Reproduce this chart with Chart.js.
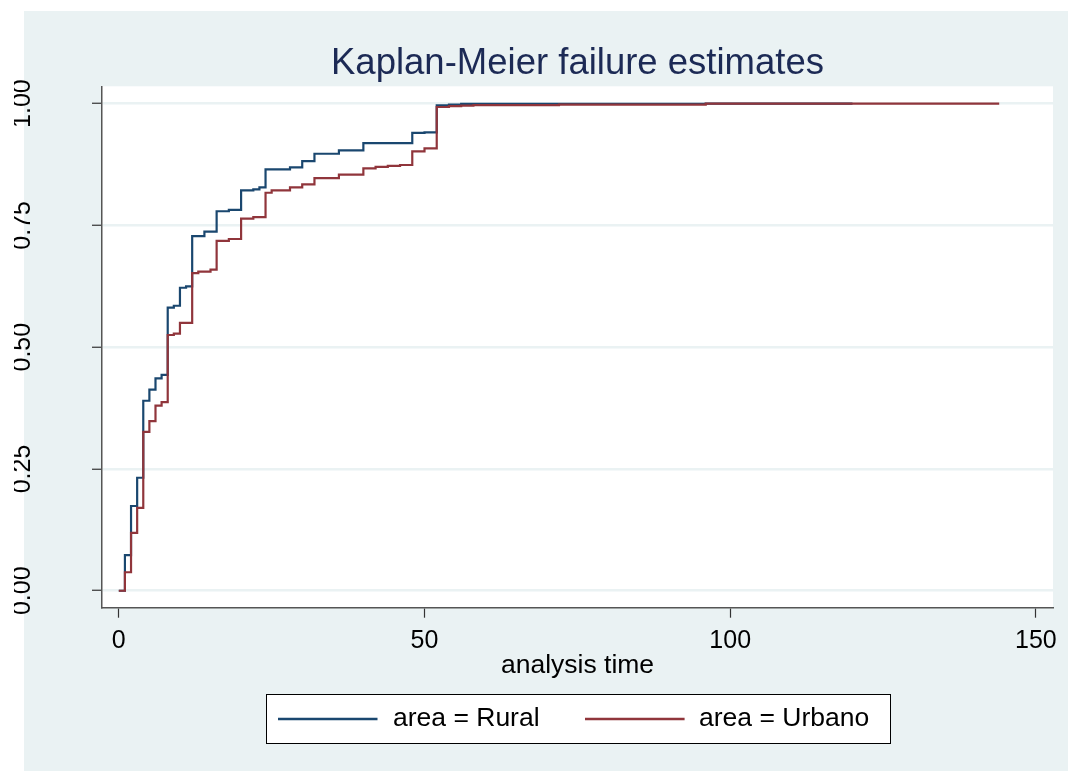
<!DOCTYPE html>
<html><head><meta charset="utf-8">
<script src="https://cdn.jsdelivr.net/npm/chart.js@4.4.1/dist/chart.umd.min.js"></script>
<style>html,body{margin:0;padding:0;background:#fff;overflow:hidden}</style>
</head><body>
<canvas id="c" width="1068" height="771" style="display:block;width:1068px;height:771px"></canvas>
<script>
// ---- data (Kaplan-Meier failure estimates) ----
const ruralTime    = [0, 1, 2, 3, 4, 5, 6, 7, 8, 9, 10, 11, 12, 14, 16, 18, 20, 22, 23, 24, 28, 30, 32, 36, 40, 48, 50, 52, 54, 56, 96, 120];
const ruralFailure = [0, 0.073, 0.174, 0.232, 0.390, 0.413, 0.436, 0.443, 0.581, 0.585, 0.622, 0.625, 0.728, 0.737, 0.779, 0.782, 0.822, 0.824, 0.828, 0.865, 0.869, 0.882, 0.897, 0.904, 0.919, 0.940, 0.941, 0.9965, 0.998, 0.9995, 1.0, 1.0];
const urbanoTime    = [0, 1, 2, 3, 4, 5, 6, 7, 8, 9, 10, 12, 13, 15, 16, 18, 20, 22, 24, 25, 28, 30, 32, 36, 40, 42, 44, 46, 48, 50, 52, 54, 56, 58, 72, 96, 144];
const urbanoFailure = [0, 0.038, 0.119, 0.170, 0.326, 0.348, 0.380, 0.387, 0.525, 0.528, 0.550, 0.652, 0.655, 0.659, 0.718, 0.722, 0.764, 0.767, 0.817, 0.822, 0.828, 0.834, 0.847, 0.854, 0.867, 0.870, 0.872, 0.874, 0.902, 0.908, 0.993, 0.995, 0.996, 0.997, 0.998, 1.0, 1.0];
const seriesLabels = ['area = Rural', 'area = Urbano'];
const seriesColors = ['#1a476f', '#90353b'];
const xTickValues = [0, 50, 100, 150];
const yTickValues = [0, 0.25, 0.5, 0.75, 1];
const yTickLabels = ['0.00', '0.25', '0.50', '0.75', '1.00'];
const titleText = 'Kaplan-Meier failure estimates';
const xTitleText = 'analysis time';

const FONT = '"Liberation Sans", Arial, Helvetica, sans-serif';
const BG = '#eaf2f3';
Chart.defaults.font.family = FONT;
Chart.defaults.color = '#000';

const toPoints = (ts, vs) => ts.map((t, i) => ({x: t, y: vs[i]}));

const backgroundPlugin = {
  id: 'bg',
  beforeDraw(chart) {
    const {ctx, chartArea: a} = chart;
    ctx.save();
    ctx.fillStyle = '#ffffff';
    ctx.fillRect(0, 0, chart.width, chart.height);
    ctx.fillStyle = BG;
    ctx.fillRect(24, 11, chart.width - 24, chart.height - 11);
    ctx.fillStyle = '#ffffff';
    ctx.fillRect(a.left, a.top, a.right - a.left, a.bottom - a.top);
    ctx.restore();
  }
};

const yLabelPlugin = {
  id: 'yLabels',
  afterDraw(chart) {
    const {ctx} = chart;
    const ys = chart.scales.y;
    ctx.save();
    ctx.beginPath();
    ctx.rect(14, 0, chart.width - 14, chart.height);
    ctx.clip();
    ctx.fillStyle = '#000';
    ctx.font = '25px ' + FONT;
    ctx.textAlign = 'center';
    ctx.textBaseline = 'alphabetic';
    yTickValues.forEach((v, i) => {
      const y = ys.getPixelForValue(v);
      ctx.save();
      ctx.translate(30, y);
      ctx.rotate(-Math.PI / 2);
      ctx.fillText(yTickLabels[i], 0, 0);
      ctx.restore();
    });
    ctx.restore();
  }
};

const legendPlugin = {
  id: 'boxLegend',
  afterDraw(chart) {
    const {ctx, chartArea: a} = chart;
    const w = 624, h = 49, top = 694;
    const left = Math.round((a.left + a.right) / 2 - w / 2);
    ctx.save();
    ctx.fillStyle = '#ffffff';
    ctx.fillRect(left, top, w, h);
    ctx.strokeStyle = '#000';
    ctx.lineWidth = 1;
    ctx.strokeRect(left + 0.5, top + 0.5, w, h);
    const items = [{l0: 12, l1: 111.5, tx: 127}, {l0: 319, l1: 418.6, tx: 433}];
    const cy = top + 25;
    ctx.font = '26.5px ' + FONT;
    ctx.textBaseline = 'middle';
    ctx.textAlign = 'left';
    chart.data.datasets.forEach((ds, i) => {
      const it = items[i];
      ctx.strokeStyle = ds.borderColor;
      ctx.lineWidth = 2.5;
      ctx.beginPath();
      ctx.moveTo(left + it.l0, cy);
      ctx.lineTo(left + it.l1, cy);
      ctx.stroke();
      ctx.fillStyle = '#000';
      ctx.fillText(ds.label, left + it.tx, cy);
    });
    ctx.restore();
  }
};

new Chart(document.getElementById('c'), {
  type: 'line',
  data: {
    datasets: [
      {label: seriesLabels[0], data: toPoints(ruralTime, ruralFailure), borderColor: seriesColors[0], backgroundColor: seriesColors[0], borderWidth: 2.2, stepped: 'before', pointRadius: 0, fill: false, order: 1},
      {label: seriesLabels[1], data: toPoints(urbanoTime, urbanoFailure), borderColor: seriesColors[1], backgroundColor: seriesColors[1], borderWidth: 2.2, stepped: 'before', pointRadius: 0, fill: false, order: 0}
    ]
  },
  options: {
    responsive: false,
    devicePixelRatio: 1,
    animation: false,
    events: [],
    layout: {padding: {top: 0, left: 0, right: 15, bottom: 81}},
    plugins: {
      legend: {display: false},
      tooltip: {enabled: false},
      title: {
        display: true, text: titleText, color: '#1c2a55', fullSize: false,
        font: {family: FONT, size: 36.5, weight: 'normal', lineHeight: 1.2},
        padding: {top: 42, bottom: 0.5}
      }
    },
    scales: {
      x: {
        type: 'linear', position: 'bottom', min: -2.75, max: 152.8,
        afterBuildTicks: s => { s.ticks = xTickValues.map(v => ({value: v})); },
        afterFit: s => { s.height = 82.3; },
        ticks: {font: {size: 25}, color: '#000', padding: 8, maxRotation: 0, autoSkip: false, callback: v => String(v)},
        grid: {drawOnChartArea: false, drawTicks: true, tickLength: 10, tickColor: '#333', tickWidth: 1.2},
        border: {display: true, color: '#555', width: 1.5},
        title: {display: true, text: xTitleText, color: '#000', font: {size: 26.5, lineHeight: 1.2}, padding: {top: 0, bottom: 8}}
      },
      y: {
        type: 'linear', position: 'left', min: -0.0348, max: 1.0355,
        afterBuildTicks: s => { s.ticks = yTickValues.map(v => ({value: v})); },
        afterFit: s => { s.width = 102; },
        ticks: {display: false},
        grid: {color: BG, lineWidth: 2.5, drawTicks: true, tickLength: 10, tickColor: '#333', tickWidth: 1.2},
        border: {display: true, color: '#555', width: 1.5}
      }
    }
  },
  plugins: [backgroundPlugin, yLabelPlugin, legendPlugin]
});
</script>
</body></html>
